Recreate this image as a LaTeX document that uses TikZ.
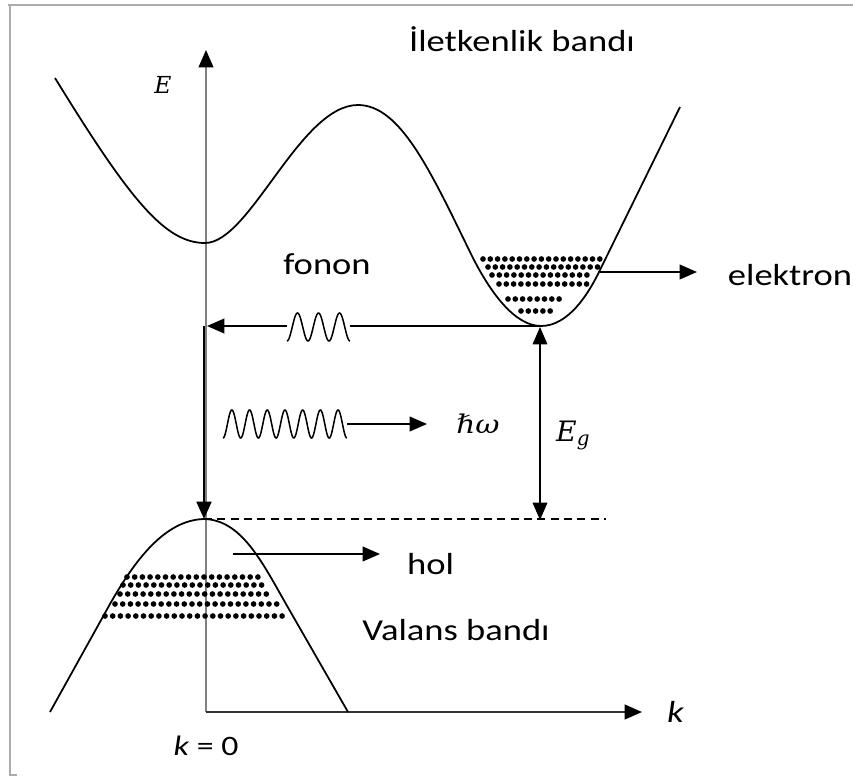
\documentclass[tikz,border=0pt]{standalone}
\usepackage{fontspec}
\setmainfont{Carlito}
\newfontfamily\mathlike{DejaVu Serif}
\usetikzlibrary{arrows.meta}
\newcommand{\wtxt}[1]{\scalebox{1.2}[1]{#1}}
\begin{document}
\begin{tikzpicture}[x=0.3mm,y=-0.3mm,
  band/.style={line width=1.5pt, black},
  tipk/.style={-{Triangle[length=5.2mm,width=4.4mm,color=black]}},
  lbl/.style={font=\fontsize{26}{30}\selectfont, inner sep=0pt},
  mlbl/.style={font=\mathlike\itshape\fontsize{22}{26}\selectfont, inner sep=0pt},
  frame/.style={line width=0.8mm, gray!65}
]
\useasboundingbox (0,0) rectangle (853,776);
% frame
\draw[frame] (8,5) -- (853,5);
\draw[frame] (10,5) -- (10,775) -- (17,775);

% axes
\coordinate (O) at (206,712);
\coordinate (Etop) at (206,50);
\coordinate (Kend) at (642,712);
\draw[line width=1.6pt, gray, tipk] (O) -- (Etop);
\draw[line width=1.8pt, black!80, tipk] (O) -- (Kend);
\node[mlbl, font=\mathlike\itshape\fontsize{20}{24}\selectfont] (Elab) at (163,85) {E};
\node[lbl, anchor=west] (klab) at (667,712) {\wtxt{\itshape k}};
\node[font=\fontsize{24}{28}\selectfont, inner sep=0pt] (k0) at (206,746) {\wtxt{\textit{k} = 0}};

% conduction band
\coordinate (cmin) at (205,243);
\coordinate (cmax) at (358,105);
\coordinate (vmin) at (541,326);
\draw[band] (55,78) .. controls (130,200) and (165,243) .. (cmin)
  .. controls (250,243) and (300,105) .. (cmax)
  .. controls (400,105) and (430,170) .. (470,252)
  .. controls (490,293) and (515,326) .. (vmin)
  .. controls (568,326) and (588,295) .. (600,270) -- (680,107);

% electrons
\foreach \yy/\a/\b in {259/483/602, 267/488/598, 275/492/593, 284/499/587, 299/508/566, 311/521/553}{
  \pgfmathsetmacro{\c}{\a+7.3}
  \foreach \xx in {\a,\c,...,\b}{\fill (\xx,\yy) circle[radius=0.85mm];}
}

% valence band
\coordinate (vtop) at (204,519);
\draw[band] (50,712) -- (110,604) .. controls (135,560) and (165,520) .. (vtop)
  .. controls (241,520) and (261,560) .. (286,604) -- (348,712);

% holes
\foreach \yy/\a/\b in {577/127/258, 585/123/264, 594/120/270, 604/115/279, 616/105/287}{
  \pgfmathsetmacro{\c}{\a+7.7}
  \foreach \xx in {\a,\c,...,\b}{\fill (\xx,\yy) circle[radius=0.85mm];}
}

% electron arrow
\coordinate (e1) at (600,272);
\coordinate (e2) at (697,272);
\draw[line width=1.5pt, tipk] (e1) -- (e2);
\node[lbl, anchor=base] (elek) at (790,285) {\wtxt{elektron}};

% phonon
\coordinate (f1) at (350,326);
\coordinate (f2) at (287,326);
\coordinate (ftip) at (207,326);
\draw[line width=1.5pt] (vmin) -- (f1);
\draw[line width=1.3pt] plot[domain=0:3, samples=90, smooth] ({287+\x*21},{327+14*cos(360*\x)});
\draw[line width=1.5pt, tipk] (f2) -- (ftip);
\node[lbl, anchor=base] (fon) at (327,274) {\wtxt{fonon}};

% vertical transition
\coordinate (d1) at (204,326);
\draw[line width=2.4pt, tipk] (d1) -- (vtop);

% gap
\coordinate (g1) at (540,520);
\coordinate (g2) at (540,327);
\draw[line width=1pt, {Triangle[length=5.2mm,width=4.4mm]}-{Triangle[length=5.2mm,width=4.4mm]}] (g2) -- (g1);
\node[mlbl, anchor=base west, font=\mathlike\itshape\fontsize{24}{28}\selectfont] (Eg) at (556,441) {E\raisebox{-0.3ex}{\fontsize{17}{20}\selectfont g}};
\coordinate (dashend) at (606,519);
\draw[line width=1.5pt, dash pattern=on 2.4mm off 1.6mm] (vtop) -- (dashend);

% photon
\coordinate (p1) at (347,424);
\coordinate (p2) at (427,424);
\draw[line width=1.3pt] plot[domain=0:7, samples=280, smooth] ({223+\x*17.7},{424+14*cos(360*\x)});
\draw[line width=1.5pt, tipk] (p1) -- (p2);
\node[mlbl, anchor=base] (hw) at (478,433) {\scalebox{1.15}[1]{ℏω}};

% hole arrow
\coordinate (h1) at (233,554);
\coordinate (h2) at (380,554);
\draw[line width=1.5pt, tipk] (h1) -- (h2);
\node[lbl, anchor=base west] (hol) at (407,574) {\wtxt{hol}};
\node[lbl, anchor=base] (vb) at (456,640) {\wtxt{Valans bandı}};

\node[lbl, anchor=base] (cb) at (522,52) {\wtxt{İletkenlik bandı}};
\end{tikzpicture}
\end{document}
